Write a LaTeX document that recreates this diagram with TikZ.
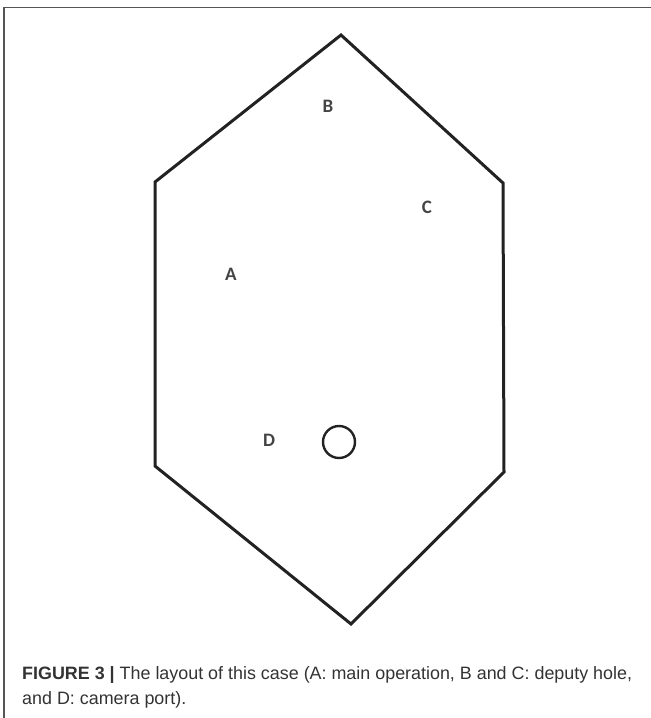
\documentclass[tikz,border=0pt]{standalone}
\usepackage{fontspec}
\setmainfont{Liberation Sans}
\newfontfamily\lblfont{Carlito}
\definecolor{framegray}{HTML}{555555}
\definecolor{hexcol}{HTML}{222222}
\definecolor{lblcol}{HTML}{444444}
\definecolor{capcol}{HTML}{333333}
\tikzset{
  hexline/.style={draw=hexcol, line width=3pt, line join=miter},
  lbl/.style={text=lblcol, font=\lblfont\bfseries\fontsize{19}{19}\selectfont, inner sep=0pt},
  captext/.style={text=capcol, font=\fontsize{17.9}{24}\selectfont, inner sep=0pt, anchor=base west},
}
\begin{document}
\begin{tikzpicture}[x=1pt,y=-1pt]
\useasboundingbox (0,0) rectangle (651,718);
% frame
\draw[framegray, line width=1.6pt] (4,718) -- (4,7.5) -- (651,7.5);
% hexagon
\coordinate (t) at (341,35);
\coordinate (tr) at (503,183);
\coordinate (br) at (504,472);
\coordinate (b) at (351,624);
\coordinate (bl) at (155,466);
\coordinate (tl) at (155,182);
\draw[hexline] (t) -- (tr) -- (br) -- (b) -- (bl) -- (tl) -- cycle;
% labels
\node[lbl] (B) at (328,106) {B};
\node[lbl] (C) at (427,207) {C};
\node[lbl] (A) at (231,274) {A};
\node[lbl] (D) at (269,440) {D};
\node[draw=hexcol, line width=2.4pt, circle, minimum size=32pt, inner sep=0pt] (port) at (339,442) {};
% caption
\node[captext] (cap1) at (22,679) {\textbf{FIGURE 3 |} The layout of this case (A: main operation, B and C: deputy hole,};
\node[captext] (cap2) at (22,704) {and D: camera port).};
\end{tikzpicture}
\end{document}
